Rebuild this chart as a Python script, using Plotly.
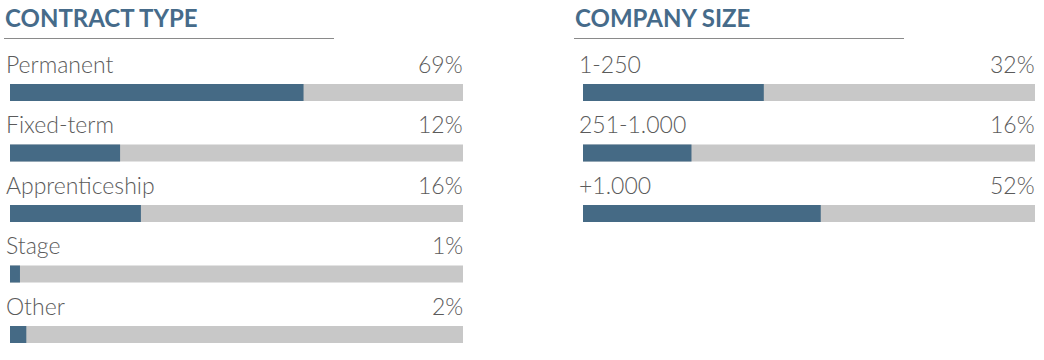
import plotly.graph_objects as go

W, H = 1044, 360
OX, OY = 0, 0   # body margin removed via post_script

# ---- data ----
contract_categories = ["Permanent", "Fixed-term", "Apprenticeship", "Stage", "Other"]
contract_labels = ["69%", "12%", "16%", "1%", "2%"]
contract_fill = [64.8, 24.3, 28.9, 2.2, 3.6]   # bar fill length as drawn in the picture

size_categories = ["1-250", "251-1.000", "+1.000"]
size_labels = ["32%", "16%", "52%"]
size_fill = [40.0, 24.0, 52.6]

titles = ["CONTRACT TYPE", "COMPANY SIZE"]

# ---- style ----
FILL = "#456a85"
TRACK = "#c8c8c8"
TITLE_C = "#466b8a"
TEXT_C = "#5b5b5b"
FONT = "Lato"

fig = go.Figure()

def px_x(p):
    return (p - OX) / W

def px_y(p):
    return 1 - (p - OY) / H

def px_to_row(p):
    return (p - 92.5) / 60.5

# y mapping: row 0 centre at px 92.5, row spacing 60.5 px; axis spans whole height
ydom = [0, 1]
y_range = [px_to_row(OY + H), px_to_row(OY)]
bar_w = 17 / 60.5

panels = [
    (contract_categories, contract_labels, contract_fill, "x", "y", [px_x(10), px_x(463)]),
    (size_categories, size_labels, size_fill, "x2", "y2", [px_x(583), px_x(1035)]),
]

annotations = []
for cats, labs, fills, xa, ya, xdom in panels:
    rows = list(range(len(cats)))
    fig.add_trace(go.Bar(
        x=[100] * len(cats), y=rows, orientation="h", width=bar_w,
        marker=dict(color=TRACK, line=dict(width=0)),
        xaxis=xa, yaxis=ya, hoverinfo="skip", showlegend=False,
    ))
    fig.add_trace(go.Bar(
        x=fills, y=rows, orientation="h", width=bar_w,
        marker=dict(color=FILL, line=dict(width=0)),
        xaxis=xa, yaxis=ya, hoverinfo="skip", showlegend=False,
    ))
    for r, (c, l) in enumerate(zip(cats, labs)):
        annotations.append(dict(
            x=0, y=r, xref=xa, yref=ya, text=c, showarrow=False,
            xanchor="left", yanchor="bottom", yshift=13, xshift=-6,
            font=dict(family=FONT, size=23, color=TEXT_C, weight=300),
        ))
        annotations.append(dict(
            x=100, y=r, xref=xa, yref=ya, text=l, showarrow=False,
            xanchor="right", yanchor="bottom", yshift=13, xshift=2,
            font=dict(family=FONT, size=23, color=TEXT_C, weight=300),
        ))

# titles
for t, xp in zip(titles, [3, 573]):
    annotations.append(dict(
        x=px_x(xp), y=px_y(1), xref="paper", yref="paper", text=t,
        showarrow=False, xanchor="left", yanchor="top",
        font=dict(family=FONT, size=24, color=TITLE_C, weight=700),
    ))

shapes = [
    dict(type="line", xref="paper", yref="paper", x0=px_x(4), x1=px_x(334),
         y0=px_y(38.5), y1=px_y(38.5), line=dict(color="#8a8a8a", width=1)),
    dict(type="line", xref="paper", yref="paper", x0=px_x(574), x1=px_x(904),
         y0=px_y(38.5), y1=px_y(38.5), line=dict(color="#8a8a8a", width=1)),
]

axis_common = dict(showgrid=False, zeroline=False, showticklabels=False, showline=False, fixedrange=True)
fig.update_layout(
    width=W, height=H,
    margin=dict(l=0, r=0, t=0, b=0),
    paper_bgcolor="white", plot_bgcolor="white",
    barmode="overlay",
    xaxis=dict(domain=panels[0][5], range=[0, 100], **axis_common),
    xaxis2=dict(domain=panels[1][5], range=[0, 100], anchor="y2", **axis_common),
    yaxis=dict(domain=ydom, range=y_range, anchor="x", **axis_common),
    yaxis2=dict(domain=ydom, range=y_range, anchor="x2", **axis_common),
    annotations=annotations,
    shapes=shapes,
)

fig.write_html(
    "out.html",
    config={"displayModeBar": False},
    post_script="document.body.style.margin='0';",
)
